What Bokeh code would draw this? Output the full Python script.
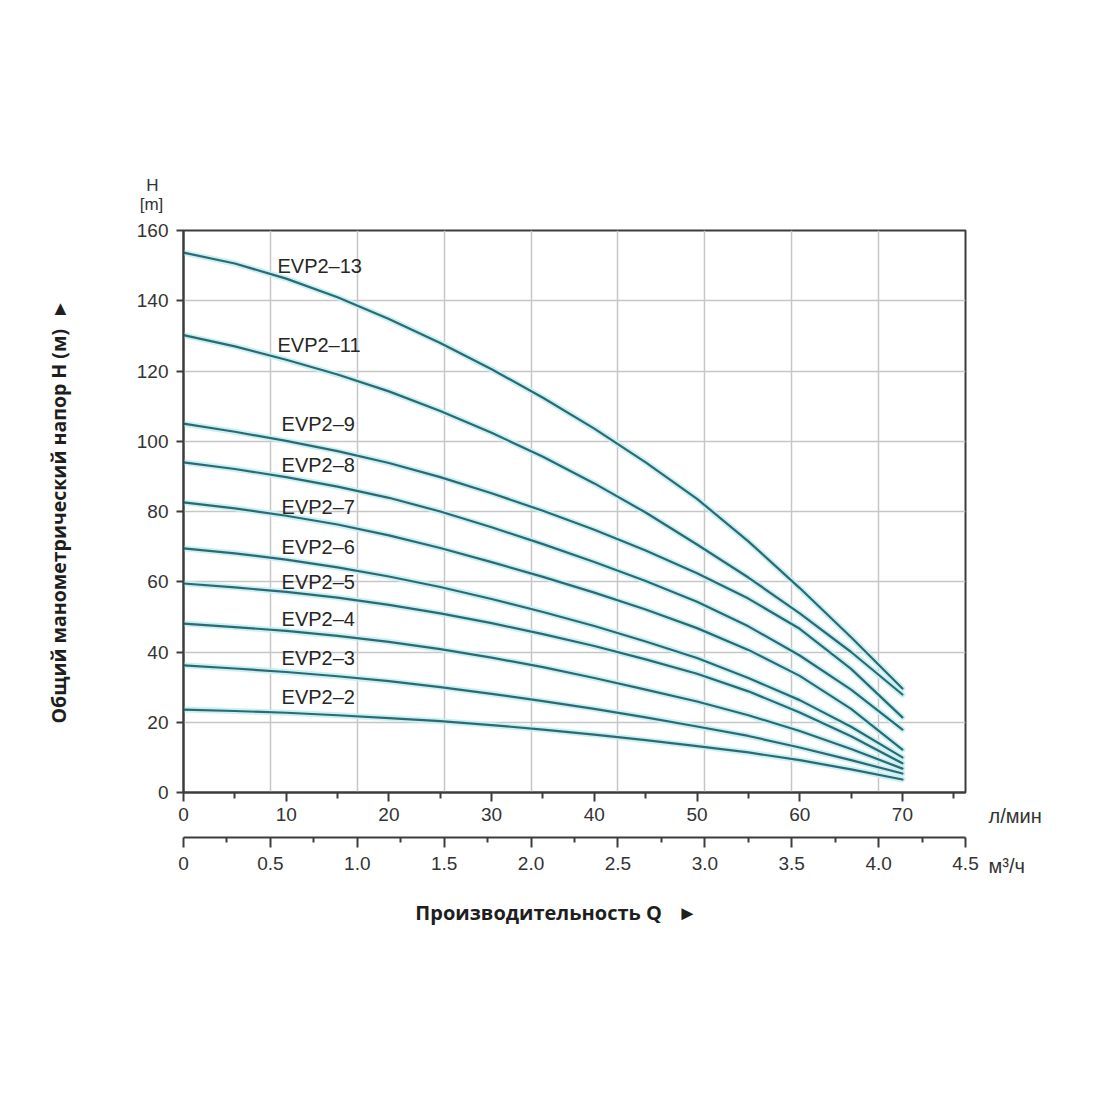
from bokeh.plotting import figure
from bokeh.models import (Range1d, LinearAxis, FixedTicker, Grid, Label,
                          ColumnDataSource, CustomJSTickFormatter)
from bokeh.core.properties import value
from bokeh.embed import file_html
from bokeh.resources import INLINE

# ---------------- data ----------------
q_lmin = [0, 5, 10, 15, 20, 25, 30, 35, 40, 45, 50, 55, 60, 65, 70]

h_evp2_13 = [153.7, 150.6, 146.3, 141.0, 134.8, 128.0, 120.5, 112.4, 103.6, 94.0, 83.6, 71.5, 58.2, 44.2, 29.6]
h_evp2_11 = [130.2, 127.0, 123.2, 119.0, 114.2, 108.6, 102.4, 95.6, 88.0, 79.7, 70.6, 61.2, 51.0, 40.0, 27.9]
h_evp2_9 = [105.0, 102.7, 100.1, 97.2, 93.8, 89.8, 85.2, 80.2, 74.8, 68.9, 62.4, 55.2, 46.6, 35.2, 21.4]
h_evp2_8 = [94.0, 92.1, 89.8, 87.1, 83.9, 80.0, 75.5, 70.7, 65.6, 60.2, 54.3, 47.3, 39.0, 29.3, 17.9]
h_evp2_7 = [82.6, 80.9, 78.8, 76.3, 73.2, 69.6, 65.6, 61.4, 56.9, 52.1, 46.8, 40.6, 33.2, 23.8, 12.2]
h_evp2_6 = [69.5, 68.1, 66.3, 64.1, 61.5, 58.5, 55.1, 51.4, 47.4, 43.0, 38.3, 32.6, 26.3, 18.7, 10.0]
h_evp2_5 = [59.5, 58.4, 57.1, 55.5, 53.4, 51.0, 48.2, 45.1, 41.7, 37.9, 33.8, 28.8, 22.8, 16.0, 8.3]
h_evp2_4 = [48.1, 47.1, 46.0, 44.6, 42.9, 40.8, 38.4, 35.7, 32.6, 29.3, 25.9, 22.0, 17.5, 12.4, 6.8]
h_evp2_3 = [36.2, 35.3, 34.3, 33.1, 31.7, 30.0, 28.1, 26.0, 23.8, 21.4, 18.8, 16.1, 12.8, 9.2, 5.4]
h_evp2_2 = [23.6, 23.2, 22.7, 22.0, 21.2, 20.3, 19.2, 17.9, 16.5, 14.9, 13.2, 11.4, 9.2, 6.6, 3.7]

model_names = ["EVP2–13", "EVP2–11", "EVP2–9", "EVP2–8", "EVP2–7",
               "EVP2–6", "EVP2–5", "EVP2–4", "EVP2–3", "EVP2–2"]
series = [h_evp2_13, h_evp2_11, h_evp2_9, h_evp2_8, h_evp2_7,
          h_evp2_6, h_evp2_5, h_evp2_4, h_evp2_3, h_evp2_2]

lmin_ticks = [0, 10, 20, 30, 40, 50, 60, 70]
lmin_minor = [5, 15, 25, 35, 45, 55, 65, 75]
m3_ticks = [0, 0.5, 1.0, 1.5, 2.0, 2.5, 3.0, 3.5, 4.0, 4.5]
m3_minor = [0.25, 0.75, 1.25, 1.75, 2.25, 2.75, 3.25, 3.75, 4.25]
m3_grid = [0.5, 1.0, 1.5, 2.0, 2.5, 3.0, 3.5, 4.0]
h_ticks = [0, 20, 40, 60, 80, 100, 120, 140, 160]
h_grid = [20, 40, 60, 80, 100, 120, 140]

# label anchor positions (annotation placement)
label_q = [9.15, 9.15, 9.55, 9.55, 9.55, 9.55, 9.55, 9.55, 9.55, 9.55]
label_h = [150.0, 127.3, 104.8, 93.1, 81.4, 69.8, 59.8, 49.5, 38.4, 27.3]

# ---------------- styling ----------------
FONT = "Liberation Sans"
BOLD = "Open Sans"
AX = "#3c3c3c"
GRID = "#c6c6c6"
CORE = "#2a6a70"
HALO = "#c4eef3"
TXT = "#333333"
NB = "\u00a0"

p = figure(width=1085, height=950,
           x_range=Range1d(0, 76.14), y_range=Range1d(0, 160),
           output_backend="svg", toolbar_location=None,
           min_border_left=183, min_border_right=120,
           min_border_top=230, min_border_bottom=158)
p.extra_x_ranges = {"m3": Range1d(0, 4.5)}
p.background_fill_color = "white"
p.border_fill_color = "white"
p.outline_line_color = AX
p.outline_line_width = 2

# grids
p.xgrid.grid_line_color = None
p.ygrid.ticker = FixedTicker(ticks=h_grid)
p.ygrid.grid_line_color = GRID
p.ygrid.grid_line_width = 1.5
vgrid = Grid(dimension=0, ticker=FixedTicker(ticks=m3_grid), x_range_name="m3",
             grid_line_color=GRID, grid_line_width=1.5)
p.add_layout(vgrid)

# primary x axis (l/min)
xa = p.xaxis[0]
xa.ticker = FixedTicker(ticks=lmin_ticks, minor_ticks=lmin_minor)
xa.axis_line_color = AX
xa.axis_line_width = 2
xa.major_tick_out = 9
xa.major_tick_in = 0
xa.minor_tick_out = 6
xa.minor_tick_in = 0
xa.major_tick_line_color = AX
xa.major_tick_line_width = 2
xa.minor_tick_line_color = AX
xa.minor_tick_line_width = 2
xa.major_label_text_font = FONT
xa.major_label_text_font_size = "19px"
xa.major_label_text_color = TXT
xa.major_label_standoff = 6
xa.axis_label = " "
xa.axis_label_text_font_size = "10px"
xa.axis_label_standoff = 0

# secondary x axis (m3/h)
m3ax = LinearAxis(x_range_name="m3",
                  ticker=FixedTicker(ticks=m3_ticks, minor_ticks=m3_minor),
                  formatter=CustomJSTickFormatter(code="return tick == 0 ? '0' : tick.toFixed(1);"))
m3ax.axis_line_color = AX
m3ax.axis_line_width = 2
m3ax.major_tick_out = 10
m3ax.major_tick_in = 0
m3ax.minor_tick_out = 5
m3ax.minor_tick_in = 0
m3ax.major_tick_line_color = AX
m3ax.major_tick_line_width = 2
m3ax.minor_tick_line_color = AX
m3ax.minor_tick_line_width = 2
m3ax.major_label_text_font = FONT
m3ax.major_label_text_font_size = "19px"
m3ax.major_label_text_color = TXT
m3ax.major_label_standoff = 9
m3ax.axis_label = "Производительность Q" + NB * 3 + "►" + NB * 7
m3ax.axis_label_text_font = BOLD
m3ax.axis_label_text_font_style = "bold"
m3ax.axis_label_text_font_size = "20px"
m3ax.axis_label_text_color = "#1e1e1e"
m3ax.axis_label_standoff = 26
p.add_layout(m3ax, "below")

# y axis
ya = p.yaxis[0]
ya.ticker = FixedTicker(ticks=h_ticks)
ya.axis_line_color = AX
ya.axis_line_width = 2
ya.major_tick_out = 7
ya.major_tick_in = 0
ya.minor_tick_line_color = None
ya.major_tick_line_color = AX
ya.major_tick_line_width = 2
ya.major_label_text_font = FONT
ya.major_label_text_font_size = "19px"
ya.major_label_text_color = TXT
ya.major_label_standoff = 8
ya.axis_label = "Общий манометрический напор H (м)" + NB * 2 + "►"
ya.axis_label_text_font = BOLD
ya.axis_label_text_font_style = "bold"
ya.axis_label_text_font_size = "19.5px"
ya.axis_label_text_color = "#1e1e1e"
ya.axis_label_standoff = 62


def side_label(side, x, y, t, size="20px", align="left"):
    p.add_layout(Label(x=x, y=y, x_units="canvas", y_units="canvas", text=t,
                       text_font=FONT, text_font_size=size, text_color=TXT,
                       text_align=align, text_baseline="middle"), side)


# "H [m]" above the y axis
side_label("above", 152, 185, "H", size="17px", align="center")
side_label("above", 151, 204, "[m]", size="17px", align="center")

# unit names to the right of the two x axes
side_label("right", 988, 815, "л/мин")
side_label("right", 988, 865, "м³/ч")

# curves
for h in series:
    src = ColumnDataSource(dict(q=q_lmin, h=h))
    p.line("q", "h", source=src, line_color=HALO, line_width=6, line_alpha=0.9,
           line_join="round", line_cap="round")
for h in series:
    src = ColumnDataSource(dict(q=q_lmin, h=h))
    p.line("q", "h", source=src, line_color=CORE, line_width=2.2,
           line_join="round", line_cap="round")

# curve labels
lab_src = ColumnDataSource(dict(x=label_q, y=label_h, t=model_names))
p.text("x", "y", text="t", source=lab_src, text_font=value(FONT),
       text_font_size="20px", text_baseline="middle", text_align="left",
       text_color="#262626")

open("out.html", "w").write(file_html(p, INLINE))
